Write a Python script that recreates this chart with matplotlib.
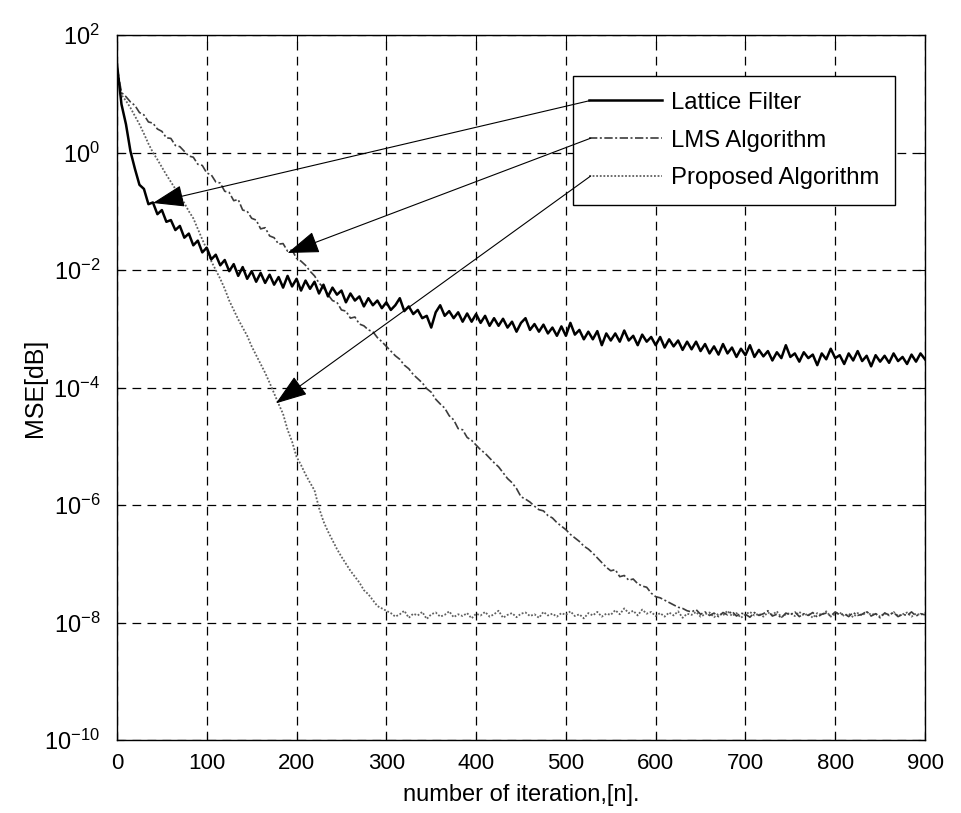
import numpy as np
import matplotlib
matplotlib.use('Agg')
import matplotlib.pyplot as plt
from matplotlib.ticker import NullLocator

plt.rcParams['font.family'] = ['Liberation Sans', 'DejaVu Sans']
plt.rcParams['mathtext.fontset'] = 'custom'
plt.rcParams['mathtext.rm'] = 'Liberation Sans'
plt.rcParams['mathtext.it'] = 'Liberation Sans:italic'
plt.rcParams['mathtext.default'] = 'regular'

# ---------------- data (log10 of MSE) ----------------
iterations = np.arange(0, 901, 5)

lattice_log10 = [
    1.50, 0.82, 0.48, 0.02, -0.28, -0.55, -0.62, -0.88, -0.85, -1.05,
    -0.98, -1.18, -1.15, -1.32, -1.25, -1.45, -1.38, -1.58, -1.50, -1.70,
    -1.62, -1.82, -1.74, -1.92, -1.83, -2.02, -1.90, -2.10, -1.95, -2.15,
    -2.02, -2.20, -2.05, -2.22, -2.08, -2.25, -2.12, -2.30, -2.10, -2.28,
    -2.15, -2.35, -2.18, -2.32, -2.20, -2.40, -2.25, -2.45, -2.30, -2.42,
    -2.35, -2.55, -2.40, -2.52, -2.45, -2.62, -2.48, -2.60, -2.52, -2.65,
    -2.55, -2.68, -2.60, -2.48, -2.70, -2.62, -2.75, -2.68, -2.82, -2.78,
    -2.98, -2.72, -2.60, -2.78, -2.70, -2.82, -2.72, -2.88, -2.74, -2.88,
    -2.75, -2.90, -2.78, -2.95, -2.82, -2.95, -2.83, -2.98, -2.88, -3.05,
    -2.90, -2.82, -3.02, -2.92, -3.05, -2.93, -3.08, -2.98, -3.12, -2.96,
    -3.12, -2.90, -3.10, -3.02, -3.18, -3.05, -3.18, -3.04, -3.28, -3.08,
    -3.20, -3.08, -3.22, -3.03, -3.20, -3.12, -3.28, -3.10, -3.22, -3.14,
    -3.28, -3.14, -3.32, -3.18, -3.30, -3.20, -3.36, -3.22, -3.35, -3.22,
    -3.38, -3.26, -3.42, -3.30, -3.44, -3.26, -3.42, -3.32, -3.48, -3.34,
    -3.45, -3.28, -3.48, -3.36, -3.47, -3.38, -3.54, -3.40, -3.50, -3.28,
    -3.48, -3.42, -3.56, -3.40, -3.50, -3.44, -3.62, -3.42, -3.52, -3.34,
    -3.50, -3.45, -3.60, -3.42, -3.54, -3.38, -3.55, -3.46, -3.64, -3.45,
    -3.56, -3.46, -3.58, -3.42, -3.55, -3.48, -3.60, -3.44, -3.56, -3.42,
    -3.52,
]

lms_decay_log10 = [
    1.45, 1.02, 0.95, 0.86, 0.80, 0.68, 0.64, 0.52, 0.50, 0.40,
    0.36, 0.25, 0.24, 0.12, 0.10, 0.02, -0.06, -0.08, -0.20, -0.22,
    -0.35, -0.38, -0.50, -0.52, -0.66, -0.68, -0.82, -0.80, -0.98, -1.00,
    -1.12, -1.15, -1.30, -1.28, -1.42, -1.45, -1.56, -1.55, -1.68, -1.66,
    -1.80, -1.85, -1.92, -2.02, -2.10, -2.22, -2.30, -2.42, -2.52, -2.55,
    -2.68, -2.70, -2.82, -2.80, -2.92, -2.95, -3.02, -3.05, -3.15, -3.22,
    -3.30, -3.38, -3.46, -3.52, -3.62, -3.68, -3.78, -3.85, -3.92, -4.02,
    -4.08, -4.20, -4.28, -4.35, -4.48, -4.55, -4.70, -4.72, -4.85, -4.90,
    -4.98, -5.06, -5.12, -5.20, -5.28, -5.35, -5.45, -5.55, -5.62, -5.72,
    -5.86, -5.90, -5.95, -6.02, -6.08, -6.10, -6.18, -6.22, -6.30, -6.36,
    -6.42, -6.50, -6.56, -6.62, -6.70, -6.75, -6.82, -6.90, -6.98, -7.06,
    -7.12, -7.10, -7.22, -7.20, -7.28, -7.26, -7.34, -7.38, -7.40, -7.50,
    -7.56, -7.58, -7.62, -7.66, -7.70, -7.74, -7.76, -7.80, -7.82,
]
lms_floor_log10 = [
    -7.78, -7.86, -7.82, -7.88, -7.84, -7.90, -7.83, -7.87, -7.81, -7.89,
    -7.84, -7.86, -7.91, -7.83, -7.88, -7.85, -7.80, -7.89, -7.86, -7.92,
    -7.84, -7.87, -7.82, -7.90, -7.85, -7.88, -7.83, -7.91, -7.86, -7.84,
    -7.89, -7.82, -7.87, -7.85, -7.90, -7.83, -7.88, -7.86, -7.81, -7.89,
    -7.85, -7.92, -7.84, -7.87, -7.83, -7.90, -7.86, -7.88, -7.82, -7.89,
    -7.85, -7.87,
]

proposed_decay_log10 = [
    1.45, 0.98, 0.88, 0.76, 0.62, 0.48, 0.32, 0.15, 0.00, -0.12,
    -0.25, -0.38, -0.50, -0.62, -0.74, -0.86, -1.00, -1.12, -1.30, -1.48,
    -1.65, -1.85, -2.00, -2.15, -2.32, -2.52, -2.68, -2.84, -2.98, -3.12,
    -3.30, -3.45, -3.60, -3.75, -3.92, -4.10, -4.28, -4.45, -4.72, -4.92,
    -5.18, -5.32, -5.48, -5.62, -5.75, -6.05, -6.28, -6.45, -6.60, -6.75,
    -6.88, -7.00, -7.12, -7.22, -7.32, -7.45, -7.52, -7.62, -7.72, -7.76,
    -7.80,
]
proposed_floor_log10 = [
    -7.84, -7.90, -7.86, -7.80, -7.92, -7.85, -7.88, -7.82, -7.94, -7.86,
    -7.83, -7.90, -7.87, -7.81, -7.91, -7.86, -7.89, -7.84, -7.93, -7.85,
    -7.88, -7.82, -7.90, -7.86, -7.80, -7.92, -7.87, -7.84, -7.91, -7.85,
    -7.83, -7.89, -7.86, -7.92, -7.82, -7.88, -7.85, -7.90, -7.84, -7.87,
    -7.81, -7.89, -7.86, -7.93, -7.84, -7.88, -7.82, -7.90, -7.85, -7.87,
    -7.79, -7.86, -7.76, -7.84, -7.80, -7.88, -7.78, -7.85, -7.82, -7.89,
    -7.84, -7.90, -7.83, -7.88, -7.81, -7.92, -7.85, -7.87, -7.82, -7.90,
    -7.86, -7.83, -7.91, -7.85, -7.88, -7.80, -7.89, -7.84, -7.92, -7.86,
    -7.82, -7.88, -7.85, -7.90, -7.83, -7.87, -7.81, -7.91, -7.86, -7.84,
    -7.89, -7.82, -7.88, -7.85, -7.92, -7.84, -7.87, -7.81, -7.90, -7.86,
    -7.83, -7.89, -7.85, -7.91, -7.84, -7.88, -7.82, -7.87, -7.85, -7.90,
    -7.84, -7.88, -7.82, -7.89, -7.86, -7.83, -7.90, -7.85, -7.87, -7.84,
]

series_labels = ['Lattice Filter', 'LMS Algorithm', 'Proposed Algorithm']
# points on the curves that the legend arrows point at: (iteration, MSE)
arrow_targets = [(40, 10 ** -0.86), (190, 10 ** -1.71), (177, 10 ** -4.27)]
xtick_values = list(range(0, 901, 100))
ytick_exponents = [2, 0, -2, -4, -6, -8, -10]

# ---------------- figure ----------------
W, H = 961, 813
fig = plt.figure(figsize=(W / 100, H / 100), dpi=100)
ax = fig.add_axes([117 / W, 73 / H, 808 / W, 705 / H])

lattice = 10.0 ** np.array(lattice_log10)
lms = 10.0 ** np.array(lms_decay_log10 + lms_floor_log10)
proposed = 10.0 ** np.array(proposed_decay_log10 + proposed_floor_log10)

l3, = ax.semilogy(iterations, proposed, color='#606060', lw=1.3,
                  ls=(0, (1.0, 1.0)), zorder=3)
l2, = ax.semilogy(iterations, lms, color='#3c3c3c', lw=1.2,
                  ls=(0, (5, 1.5, 1.2, 1.5)), zorder=3)
l1, = ax.semilogy(iterations, lattice, color='black', lw=1.8, ls='-', zorder=4)

ax.set_xlim(0, 900)
ax.set_ylim(1e-10, 1e2)
ax.set_xticks(xtick_values)
ax.set_yticks([10.0 ** e for e in ytick_exponents])
ax.yaxis.set_minor_locator(NullLocator())
ax.grid(True, which='major', color='black', ls=(0, (7, 5)), lw=0.9)
ax.tick_params(direction='in', length=5, top=True, right=True)
ax.tick_params(axis='x', pad=9, labelsize=16)
ax.tick_params(axis='y', pad=12, labelsize=17)
for s in ax.spines.values():
    s.set_linewidth(1.0)

ax.set_xlabel('number of iteration,[n].', fontsize=17)
ax.xaxis.set_label_coords(0.5, -0.062)
ax.set_ylabel('MSE[dB]', fontsize=18)
ax.yaxis.set_label_coords(-0.087, 0.5)

leg = ax.legend([l1, l2, l3], series_labels, loc='upper left',
                bbox_to_anchor=(573 / W, 737 / H), bbox_transform=fig.transFigure,
                borderaxespad=0, fontsize=17.2, frameon=True, fancybox=False,
                edgecolor='black', framealpha=1, handlelength=3.05,
                handletextpad=0.4, labelspacing=0.66, borderpad=0.66)
leg.get_frame().set_linewidth(1.0)

fig.canvas.draw()
renderer = fig.canvas.get_renderer()
for handle_line, target in zip(leg.get_lines(), arrow_targets):
    bb = handle_line.get_window_extent(renderer)
    start = (bb.x0 + 2, (bb.y0 + bb.y1) / 2)
    ax.annotate('', xy=target, xycoords='data', xytext=start,
                textcoords='figure pixels', zorder=6,
                arrowprops=dict(arrowstyle='-|>,head_length=1.0,head_width=0.35',
                                mutation_scale=20, color='black', lw=0.8,
                                shrinkA=0, shrinkB=0))

fig.savefig('out.png', dpi=100)
